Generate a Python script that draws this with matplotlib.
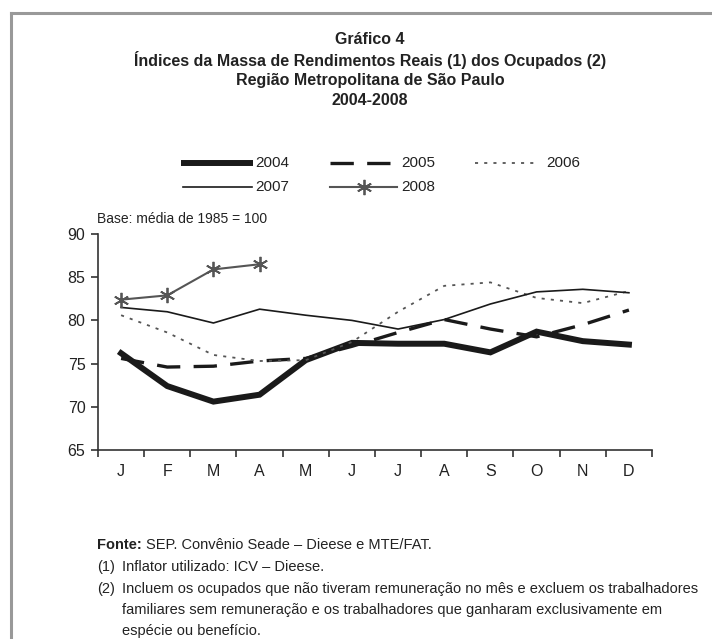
import matplotlib
matplotlib.use("Agg")
import matplotlib.pyplot as plt
from matplotlib.lines import Line2D
from matplotlib import font_manager

names = {f.name for f in font_manager.fontManager.ttflist}
base_font = 'Liberation Sans Narrow' if 'Liberation Sans Narrow' in names else 'Liberation Sans'
plt.rcParams['font.family'] = [base_font, 'DejaVu Sans']

months = ['J', 'F', 'M', 'A', 'M', 'J', 'J', 'A', 'S', 'O', 'N', 'D']
y2004 = [76.2, 72.4, 70.6, 71.4, 75.4, 77.4, 77.3, 77.3, 76.3, 78.7, 77.6, 77.2]
y2005 = [75.6, 74.6, 74.7, 75.3, 75.6, 77.0, 78.6, 80.1, 79.0, 78.1, 79.5, 81.2]
y2006 = [80.6, 78.6, 76.0, 75.3, 75.4, 77.5, 81.0, 84.0, 84.4, 82.6, 82.0, 83.4]
y2007 = [81.5, 81.0, 79.7, 81.3, 80.6, 80.0, 79.0, 80.1, 81.9, 83.3, 83.6, 83.2]
y2008 = [82.4, 82.9, 85.9, 86.5]
yticks = [65, 70, 75, 80, 85, 90]

W, H = 712, 639
fig = plt.figure(figsize=(W / 100, H / 100), dpi=100)

def fx(px):
    return px / W

def fy(py):
    return 1 - py / H

TXT = '#222222'

# frame lines (top and left, gray)
fig.add_artist(Line2D([fx(11), 1], [fy(13), fy(13)], color='#999999', lw=2.2, transform=fig.transFigure))
fig.add_artist(Line2D([fx(11), fx(11)], [fy(13), 0], color='#999999', lw=2.2, transform=fig.transFigure))

title_lines = ['Gráfico 4',
               'Índices da Massa de Rendimentos Reais (1) dos Ocupados (2)',
               'Região Metropolitana de São Paulo',
               '2004-2008']
for i, t in enumerate(title_lines):
    fig.text(fx(370), fy(40 + i * 20.3), t, ha='center', va='center',
             fontsize=11.5, fontweight='bold', color=TXT)

ax = fig.add_axes([fx(98), fy(450), fx(652) - fx(98), fy(234) - fy(450)])
x = list(range(len(months)))
dash05 = (7, 4)
dot06 = (1.7, 3.4)
ax.plot(x, y2004, color='#1a1a1a', lw=4.3, solid_joinstyle='miter', label='2004')
ax.plot(x, y2005, color='#1a1a1a', lw=2.4, dashes=dash05, label='2005')
ax.plot(x, y2006, color='#555555', lw=1.3, dashes=dot06, label='2006')
ax.plot(x, y2007, color='#1a1a1a', lw=1.2, label='2007')
ax.plot(x[:len(y2008)], y2008, color='#555555', lw=1.5, marker=(6, 2, 0),
        markersize=11, markeredgewidth=1.3, label='2008')

ax.set_xlim(-0.5, 11.5)
ax.set_ylim(65, 90)
ax.set_yticks(yticks)
ax.set_yticklabels([str(v) for v in yticks], fontsize=11.5)
ax.set_xticks(x)
ax.set_xticklabels(months, fontsize=11.5)
ax.set_xticks([i - 0.5 for i in range(13)], minor=True)
ax.tick_params(axis='x', which='major', length=0, pad=10, colors=TXT)
ax.tick_params(axis='x', which='minor', length=5, width=1.2, direction='out', color='#333333')
ax.tick_params(axis='y', length=5, width=1.2, direction='out', color='#333333', labelcolor=TXT, pad=4)
for s in ['top', 'right']:
    ax.spines[s].set_visible(False)
for s in ['left', 'bottom']:
    ax.spines[s].set_color('#333333')
    ax.spines[s].set_linewidth(1.2)

# legend drawn manually in figure coordinates
def leg_entry(x0, x1, xt, yy, label, **kw):
    fig.add_artist(Line2D([fx(x0), fx(x1)], [fy(yy), fy(yy)], transform=fig.transFigure, **kw))
    fig.text(fx(xt), fy(yy), label, ha='left', va='center', fontsize=11, color=TXT)

leg_entry(181, 253, 255, 163, '2004', color='#1a1a1a', lw=4.3, solid_capstyle='butt')
leg_entry(330, 392, 401, 163, '2005', color='#1a1a1a', lw=2.4, dashes=dash05, dash_capstyle='butt')
leg_entry(475, 537, 546, 163, '2006', color='#555555', lw=1.3, dashes=dot06)
leg_entry(183, 252, 255, 187, '2007', color='#1a1a1a', lw=1.2)
leg_entry(330, 397, 401, 187, '2008', color='#555555', lw=1.5)
fig.add_artist(Line2D([fx(364)], [fy(187)], transform=fig.transFigure, color='#555555',
                      marker=(6, 2, 0), markersize=11, markeredgewidth=1.3))

fig.text(fx(97), fy(219), 'Base: média de 1985 = 100', ha='left', va='center', fontsize=10, color=TXT)

# footnotes
fs = 10.5
fonte = fig.text(fx(97), fy(545), 'Fonte:', ha='left', va='center', fontsize=fs, fontweight='bold', color=TXT)
renderer = fig.canvas.get_renderer()
bb = fonte.get_window_extent(renderer=renderer)
fig.text((bb.x1 + 4) / W, fy(545), 'SEP. Convênio Seade – Dieese e MTE/FAT.', ha='left', va='center', fontsize=fs, color=TXT)
fig.text(fx(97), fy(567), '(1)', ha='left', va='center', fontsize=fs, color=TXT)
fig.text(fx(122), fy(567), 'Inflator utilizado: ICV – Dieese.', ha='left', va='center', fontsize=fs, color=TXT)
fig.text(fx(97), fy(589), '(2)', ha='left', va='center', fontsize=fs, color=TXT)
fig.text(fx(122), fy(589), 'Incluem os ocupados que não tiveram remuneração no mês e excluem os trabalhadores',
         ha='left', va='center', fontsize=fs, color=TXT)
fig.text(fx(122), fy(610), 'familiares sem remuneração e os trabalhadores que ganharam exclusivamente em',
         ha='left', va='center', fontsize=fs, color=TXT)
fig.text(fx(122), fy(631), 'espécie ou benefício.', ha='left', va='center', fontsize=fs, color=TXT)

fig.savefig('out.png', dpi=100)
